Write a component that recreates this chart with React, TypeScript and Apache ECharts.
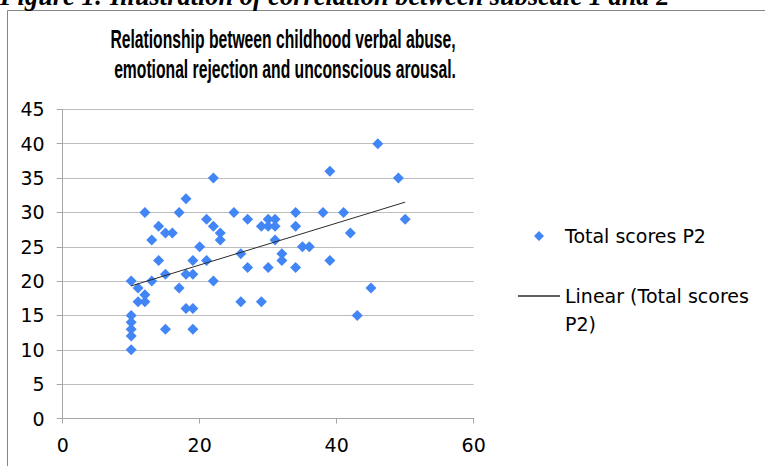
import React, { useEffect, useRef } from "react";
import * as echarts from "echarts";

const captionText = "Figure 1: Illustration of correlation between subscale 1 and 2";
const titleLines = [
  "Relationship between childhood verbal abuse,",
  "emotional rejection and unconscious arousal.",
];
const scatterName = "Total scores P2";
const trendName = "Linear (Total scores P2)";

const xValues = [
  10, 10, 10, 10, 10, 10,
  11, 11,
  12, 12, 12,
  13, 13,
  14, 14,
  15, 15, 15,
  16,
  17, 17,
  18, 18, 18,
  19, 19, 19, 19,
  20,
  21, 21,
  22, 22, 22,
  23, 23,
  25,
  26, 26,
  27, 27,
  29, 29,
  30, 30, 30,
  31, 31, 31,
  32, 32,
  34, 34, 34,
  35,
  36,
  38,
  39, 39,
  41,
  42,
  43,
  45,
  46,
  49,
  50,
];
const yValues = [
  20, 15, 14, 13, 12, 10,
  19, 17,
  18, 17, 30,
  26, 20,
  28, 23,
  27, 21, 13,
  27,
  30, 19,
  32, 21, 16,
  23, 21, 16, 13,
  25,
  29, 23,
  35, 28, 20,
  27, 26,
  30,
  24, 17,
  29, 22,
  28, 17,
  29, 28, 22,
  29, 28, 26,
  24, 23,
  30, 28, 22,
  25,
  25,
  30,
  36, 23,
  30,
  27,
  15,
  19,
  40,
  35,
  29,
];
// Linear trendline end points
const trendX = [10, 50];
const trendY = [19.3, 31.5];
const xTicks = [0, 20, 40, 60];
const yTicks = [0, 5, 10, 15, 20, 25, 30, 35, 40, 45];

export default function App() {
  const ref = useRef<HTMLDivElement>(null);
  useEffect(() => {
    if (!ref.current) return;
    const chart = echarts.init(ref.current, undefined, { renderer: "svg" });
    const n = Math.min(xValues.length, yValues.length);
    const points = [];
    for (let i = 0; i < n; i++) points.push([xValues[i], yValues[i]]);
    const trend = trendX.map((x, i) => [x, trendY[i]]);
    const font = "DejaVu Sans";
    const lineColor = "#2b2b2b";
    chart.setOption({
      animation: false,
      backgroundColor: "#ffffff",
      textStyle: { fontFamily: font },
      grid: { left: 62.7, right: 291.3, top: 109.4, bottom: 47.5, containLabel: false },
      xAxis: {
        type: "value",
        min: xTicks[0],
        max: xTicks[xTicks.length - 1],
        interval: 20,
        axisLine: { show: true, lineStyle: { color: "#a6a6a6", width: 1 } },
        axisTick: { show: true, inside: false, length: 5, lineStyle: { color: "#a6a6a6" } },
        splitLine: { show: false },
        axisLabel: { fontFamily: font, fontSize: 19, color: "#000", margin: 17 },
      },
      yAxis: {
        type: "value",
        min: yTicks[0],
        max: yTicks[yTicks.length - 1],
        interval: 5,
        axisLine: { show: true, lineStyle: { color: "#a6a6a6", width: 1 } },
        axisTick: { show: true, inside: false, length: 6, lineStyle: { color: "#a6a6a6" } },
        splitLine: { show: true, lineStyle: { color: "#bdbdbd", width: 1 } },
        axisLabel: { fontFamily: font, fontSize: 19, color: "#000", margin: 18 },
      },
      legend: [
        {
          data: [
            {
              name: scatterName,
              icon: "path://M0,5.5L0.01,5.5M42,5.5L41.99,5.5M21,0.5L26,5.5L21,10.5L16,5.5Z",
            },
          ],
          left: 518,
          top: 222,
          orient: "vertical",
          padding: 0,
          itemWidth: 42,
          itemHeight: 11,
          selectedMode: false,
          textStyle: { fontFamily: font, fontSize: 19, color: "#000", lineHeight: 28 },
        },
        {
          data: [
            {
              name: trendName,
              icon: "path://M0,0L42,0L42,1.3L0,1.3Z",
              itemStyle: { color: lineColor },
            },
          ],
          left: 518,
          top: 254,
          orient: "vertical",
          padding: 0,
          itemWidth: 42,
          itemHeight: 11,
          symbolKeepAspect: true,
          selectedMode: false,
          formatter: () => "\nLinear (Total scores\nP2)",
          textStyle: {
            fontFamily: font,
            fontSize: 19,
            color: "#000",
            lineHeight: 28,
          },
        },
      ],
      graphic: [
        {
          type: "polyline",
          shape: { points: [[7.5, 470], [7.5, 10.5], [770, 10.5]] },
          style: { stroke: "#868686", lineWidth: 1, fill: null },
          silent: true,
        },
        {
          type: "text",
          x: 0,
          y: -4.3,
          style: {
            text: captionText,
            font: "italic bold 26.4px 'Liberation Serif'",
            fill: "#000",
            align: "left",
            verticalAlign: "middle",
          },
        },
        {
          type: "text",
          x: 283,
          y: 39,
          scaleX: 0.628,
          style: {
            text: titleLines[0],
            font: "bold 25px 'Liberation Sans'",
            fill: "#000",
            align: "center",
            verticalAlign: "middle",
          },
        },
        {
          type: "text",
          x: 285,
          y: 68.6,
          scaleX: 0.628,
          style: {
            text: titleLines[1],
            font: "bold 25px 'Liberation Sans'",
            fill: "#000",
            align: "center",
            verticalAlign: "middle",
          },
        },
      ],
      series: [
        {
          name: scatterName,
          type: "scatter",
          symbol: "diamond",
          symbolSize: 11,
          itemStyle: { color: "#4285f4", opacity: 1 },
          data: points,
          z: 3,
        },
        {
          name: trendName,
          type: "line",
          data: trend,
          showSymbol: false,
          symbol: "none",
          lineStyle: { color: lineColor, width: 1 },
          itemStyle: { color: lineColor },
          z: 4,
        },
      ],
    });
    return () => chart.dispose();
  }, []);
  return (
    <div
      ref={ref}
      style={{ position: "fixed", left: 0, top: 0, width: 765, height: 466 }}
    />
  );
}
